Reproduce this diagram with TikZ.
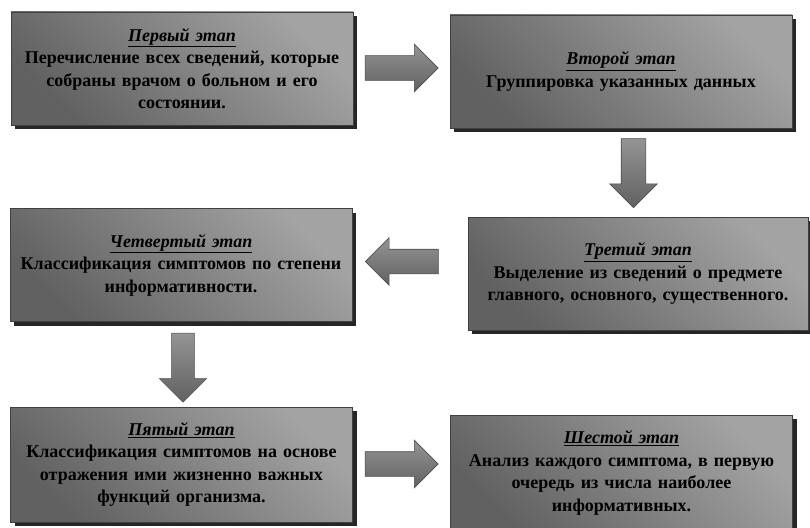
\documentclass[tikz,border=0pt]{standalone}
\usepackage{fontspec}
\setmainfont{Liberation Serif}
\usetikzlibrary{shapes.arrows,shadows}

\begin{document}
\begin{tikzpicture}[x=1pt,y=-1pt]
    		\newcommand{\stagew}{342pt}
    		\newcommand{\stageh}{113pt}
    		\newcommand{\shaft}{12pt} % half width of the arrow shafts

    		% set the style of the stages and the arrows
    		\tikzset{
    			stage/.style={
    				draw=black!75,
    				line width=0.8pt,
    				top color=black!36,
    				bottom color=black!62,
    				shading angle=-45,
    				minimum width=\stagew,
    				minimum height=\stageh,
    				text width=335pt,
    				align=center,
    				inner sep=0pt,
    				font=\fontsize{18}{22.5}\selectfont\bfseries,
    				drop shadow={shadow xshift=4pt, shadow yshift=-4pt, fill=black!85, opacity=1}
    				},
    			blockarrow/.style={
    				single arrow,
    				draw=black!70,
    				line width=0.6pt,
    				top color=black!42,
    				bottom color=black!62,
    				minimum height=73pt,
    				minimum width=47pt,
    				single arrow head extend=11.5pt,
    				single arrow head indent=0pt,
    				inner xsep=0pt,
    				inner ysep=\shaft
    				},
    			downarrow/.style={
    				blockarrow,
    				shape border rotate=270,
    				minimum height=69pt,
    				inner xsep=\shaft,
    				inner ysep=0pt
    				}
    		}

    		\useasboundingbox (0,0) rectangle (810,527);
    		\clip (0,0) rectangle (810,527);

    		% stages
		    \node[stage] (s1) at (182,68.5) {\underline{\textit{Первый этап}}\\Перечисление всех сведений, которые\\собраны врачом о больном и его\\состоянии.};
		    \node[stage] (s2) at (621,71.5) {\underline{\textit{Второй этап}}\\Группировка указанных данных};
		    \node[stage, minimum width=340pt] (s3) at (638,273.5) {\underline{\textit{Третий этап}}\\Выделение из сведений о предмете\\главного, основного, существенного.};
		    \node[stage] (s4) at (181,265) {\underline{\textit{Четвертый этап}}\\Классификация симптомов по степени\\информативности.};
		    \node[stage, minimum height=115pt] (s5) at (181.5,464.5) {\underline{\textit{Пятый этап}}\\Классификация симптомов на основе\\отражения ими жизненно важных\\функций организма.};
		    \node[stage, minimum height=116pt] (s6) at (621.5,473) {\underline{\textit{Шестой этап}}\\Анализ каждого симптома, в первую\\очередь из числа наиболее\\информативных.};

    		% arrows (the centre of a single arrow sits nearer its tip)
		    \node[blockarrow] (a12) at (395.5,68) {};
		    \node[downarrow] (a23) at (633.5,167) {};
		    \node[blockarrow, shape border rotate=180] (a34) at (408,261.5) {};
		    \node[downarrow, inner xsep=10.5pt] (a45) at (183,362) {};
		    \node[blockarrow] (a56) at (395.5,464) {};

		\end{tikzpicture}
\end{document}
